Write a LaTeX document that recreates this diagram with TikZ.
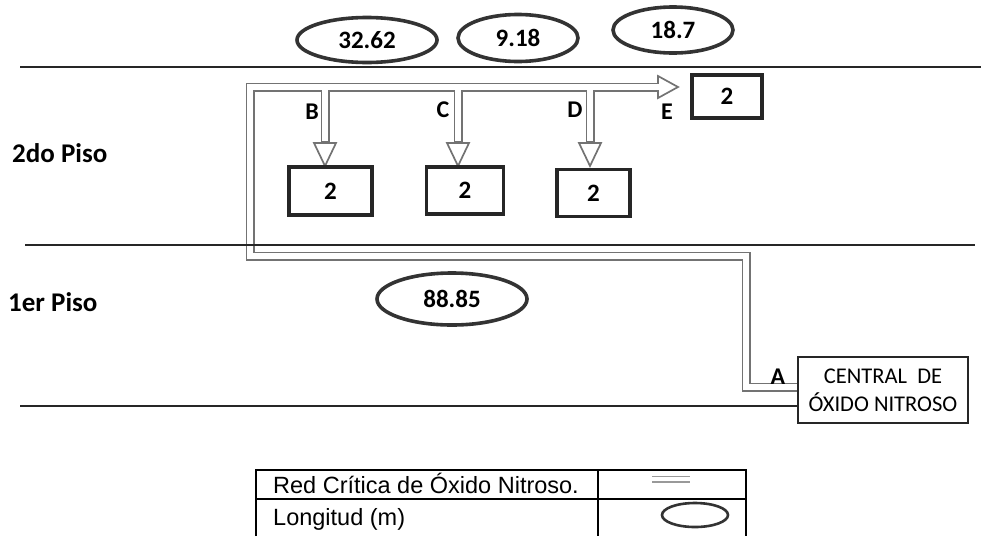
\documentclass[tikz,border=0pt]{standalone}
\usepackage{fontspec}
\setmainfont{Carlito}
\newfontfamily\tablefont{Liberation Sans}
\usetikzlibrary{shapes.geometric}
\begin{document}
\begin{tikzpicture}[x=1pt,y=-1pt,
  floorline/.style={line width=1.8pt, black!85},
  val/.style={ellipse, draw=black!80, line width=3.6pt, inner sep=0pt,
    font=\bfseries\fontsize{25}{30}\selectfont},
  cbox/.style={draw=black!85, line width=3.6pt, inner sep=0pt,
    font=\bfseries\fontsize{25}{30}\selectfont},
  lbl/.style={inner sep=0pt, font=\bfseries\fontsize{24}{28}\selectfont},
  floorlbl/.style={inner sep=0pt, anchor=west, font=\bfseries\fontsize{27}{32}\selectfont},
  pipeout/.style={line width=9pt, black!55, line join=miter},
  pipein/.style={line width=5.6pt, white, line join=miter},
  headshape/.style={fill=white, draw=black!55, line width=1.7pt, line join=miter},
  tbl/.style={line width=1.3pt, black},
  tbltext/.style={inner sep=0pt, anchor=base west, font=\tablefont\fontsize{23.5}{28}\selectfont}
]
\useasboundingbox (0,0) rectangle (981,536);

% ---- pipe coordinates
\coordinate (pA) at (798,387);
\coordinate (c1) at (746,387);
\coordinate (c2) at (746,256);
\coordinate (c3) at (250,256);
\coordinate (c4) at (250,87);
\coordinate (pE) at (658,87);
\coordinate (jB) at (325,87);
\coordinate (jC) at (458,87);
\coordinate (jD) at (590,87);
\coordinate (eB) at (325,143);
\coordinate (eC) at (458,143);
\coordinate (eD) at (590,143);

% ---- outer pipe strokes
\draw[pipeout] (pA) -- (c1) -- (c2) -- (c3) -- (c4) -- (pE);
\draw[pipeout] (jB) -- (eB);
\draw[pipeout] (jC) -- (eC);
\draw[pipeout] (jD) -- (eD);

% ---- arrow heads
\foreach \cx in {325,458,590}{
  \draw[headshape] (\cx-11,143) -- (\cx,166) -- (\cx+11,143) -- cycle;
}
\draw[headshape] (658,76) -- (678,87) -- (658,98) -- cycle;

% ---- inner pipe strokes
\draw[pipein] (pA) -- (c1) -- (c2) -- (c3) -- (c4) -- ([xshift=2pt]pE);
\draw[pipein] (jB) -- ([yshift=2pt]eB);
\draw[pipein] (jC) -- ([yshift=2pt]eC);
\draw[pipein] (jD) -- ([yshift=2pt]eD);

% ---- floor lines
\coordinate (l1a) at (20,67);  \coordinate (l1b) at (981,67);
\coordinate (l2a) at (25,245); \coordinate (l2b) at (975,245);
\coordinate (l3a) at (20,406); \coordinate (l3b) at (798,406);
\draw[floorline] (l1a) -- (l1b);
\draw[floorline] (l2a) -- (l2b);
\draw[floorline] (l3a) -- (l3b);

% ---- floor labels
\node[floorlbl] (piso2) at (12,153) {2do Piso};
\node[floorlbl] (piso1) at (8,302) {1er Piso};

% ---- length ellipses
\node[val, minimum width=140pt, minimum height=45pt] (v1) at (367,40) {32.62};
\node[val, minimum width=120pt, minimum height=47pt] (v2) at (518,38) {9.18};
\node[val, minimum width=120pt, minimum height=46pt] (v3) at (673,30) {18.7};
\node[val, minimum width=150pt, minimum height=52pt] (v4) at (452,299) {88.85};

% ---- outlet boxes
\node[cbox, minimum width=70pt, minimum height=43pt] (bE) at (727,96.5) {2};
\node[cbox, minimum width=83pt, minimum height=48pt] (bB) at (330.5,191) {2};
\node[cbox, minimum width=77pt, minimum height=47pt] (bC) at (465,190.5) {2};
\node[cbox, minimum width=73pt, minimum height=47pt] (bD) at (593.5,193) {2};

% ---- central box
\node[draw=black!85, line width=2.8pt, minimum width=170pt, minimum height=66pt,
      inner sep=0pt, align=center, font=\fontsize{22.5}{28}\selectfont] (central) at (883,390)
      {CENTRAL\ \ DE\\ÓXIDO NITROSO};

% ---- point labels
\node[lbl] (lB) at (312,112) {B};
\node[lbl] (lC) at (443,110) {C};
\node[lbl] (lD) at (575,110) {D};
\node[lbl] (lE) at (667,112) {E};
\node[lbl] (lA) at (778,377) {A};

% ---- legend table
\coordinate (t1) at (256,536); \coordinate (t2) at (256,470);
\coordinate (t3) at (746,470); \coordinate (t4) at (746,536);
\coordinate (t5) at (598,470); \coordinate (t6) at (598,536);
\coordinate (t7) at (256,499); \coordinate (t8) at (746,499);
\draw[tbl] (t1) -- (t2) -- (t3) -- (t4);
\draw[tbl] (t5) -- (t6);
\draw[tbl] (t7) -- (t8);
\node[tbltext] (r1) at (273,493) {Red Crítica de Óxido Nitroso.};
\node[tbltext] (r2) at (273,525) {Longitud (m)};
\coordinate (s1) at (652,479); \coordinate (s2) at (690,479);
\draw[line width=7pt, black!40] (s1) -- (s2);
\draw[line width=4.5pt, white] (s1) -- (s2);
\node[ellipse, draw=black!80, line width=2.6pt, minimum width=66pt, minimum height=24pt, inner sep=0pt] (legell) at (695,515) {};
\end{tikzpicture}
\end{document}
